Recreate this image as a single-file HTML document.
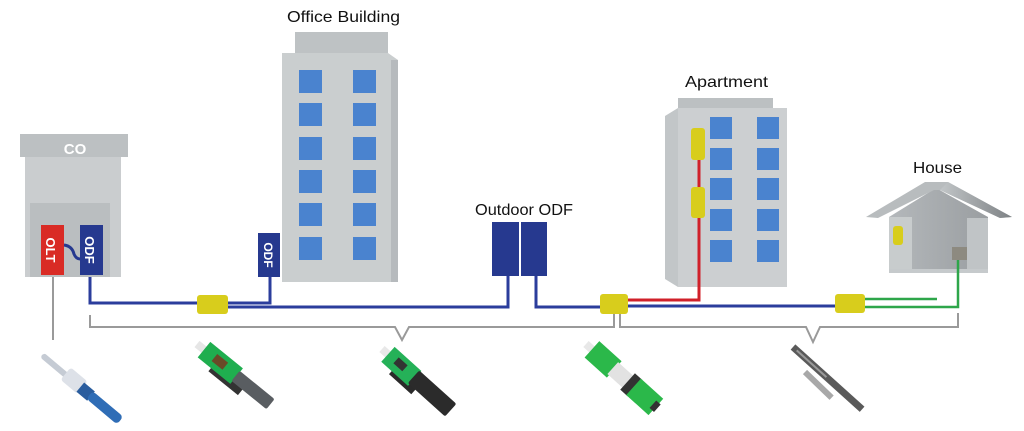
<!DOCTYPE html>
<html><head><meta charset="utf-8"><style>
html,body{margin:0;padding:0;background:#fff;width:1024px;height:431px;overflow:hidden}
svg{display:block}
text{font-family:"Liberation Sans",sans-serif}
</style></head><body>
<svg width="1024" height="431" viewBox="0 0 1024 431" xmlns="http://www.w3.org/2000/svg">
<defs>
<linearGradient id="rf" x1="0" y1="0" x2="1" y2="0">
<stop offset="0" stop-color="#c2c6c8"/><stop offset="1" stop-color="#7e8285"/>
</linearGradient>
<linearGradient id="hi" x1="0" y1="0" x2="1" y2="0">
<stop offset="0" stop-color="#b4b8bb"/><stop offset="1" stop-color="#9a9ea1"/>
</linearGradient>
</defs>
<!-- CO building -->
<rect x="20" y="134" width="108" height="23" fill="#bcc0c2"/>
<rect x="25" y="157" width="96" height="120" fill="#cacdcf"/>
<rect x="30" y="203" width="80" height="74" fill="#babec0"/>
<text x="75" y="154" font-size="15" font-weight="bold" fill="#fff" text-anchor="middle">CO</text>
<rect x="41" y="225" width="23" height="50" fill="#d92b25"/>
<rect x="80" y="225" width="23" height="50" fill="#26398f"/>
<path d="M64 245 Q72 246 74 254 Q76 259 80 259" stroke="#26398f" stroke-width="3" fill="none"/>
<text transform="translate(46 250) rotate(90)" font-size="13" font-weight="bold" fill="#fff" text-anchor="middle">OLT</text>
<text transform="translate(85 250) rotate(90)" font-size="13" font-weight="bold" fill="#fff" text-anchor="middle">ODF</text>

<!-- Office building -->
<rect x="295" y="32" width="93" height="22" fill="#bec2c4"/>
<polygon points="282,53 388,53 398,60 398,282 282,282" fill="#cacecf"/>
<rect x="391" y="60" width="7" height="222" fill="#b6babd"/>
<g fill="#4a83cf">
<rect x="299" y="70" width="23" height="23"/><rect x="353" y="70" width="23" height="23"/>
<rect x="299" y="103" width="23" height="23"/><rect x="353" y="103" width="23" height="23"/>
<rect x="299" y="137" width="23" height="23"/><rect x="353" y="137" width="23" height="23"/>
<rect x="299" y="170" width="23" height="23"/><rect x="353" y="170" width="23" height="23"/>
<rect x="299" y="203" width="23" height="23"/><rect x="353" y="203" width="23" height="23"/>
<rect x="299" y="237" width="23" height="23"/><rect x="353" y="237" width="23" height="23"/>
</g>
<text x="287" y="22" font-size="16" fill="#111" textLength="113" lengthAdjust="spacingAndGlyphs">Office Building</text>
<rect x="258" y="233" width="22" height="44" fill="#26398f"/>
<text transform="translate(264 255) rotate(90)" font-size="12" font-weight="bold" fill="#fff" text-anchor="middle">ODF</text>

<!-- Outdoor ODF -->
<text x="475" y="215" font-size="16" fill="#111" textLength="98" lengthAdjust="spacingAndGlyphs">Outdoor ODF</text>
<rect x="492" y="222" width="27" height="54" fill="#26398f"/>
<rect x="521" y="222" width="26" height="54" fill="#26398f"/>

<!-- Apartment -->
<text x="685" y="87" font-size="16" fill="#111" textLength="83" lengthAdjust="spacingAndGlyphs">Apartment</text>
<rect x="678" y="98" width="95" height="12" fill="#bcc0c2"/>
<polygon points="665,116 678,108 678,287 665,279" fill="#c2c6c8"/>
<rect x="678" y="108" width="109" height="179" fill="#cccfd1"/>
<g fill="#4a83cf">
<rect x="710" y="117" width="22" height="22"/><rect x="757" y="117" width="22" height="22"/>
<rect x="710" y="148" width="22" height="22"/><rect x="757" y="148" width="22" height="22"/>
<rect x="710" y="178" width="22" height="22"/><rect x="757" y="178" width="22" height="22"/>
<rect x="710" y="209" width="22" height="22"/><rect x="757" y="209" width="22" height="22"/>
<rect x="710" y="240" width="22" height="22"/><rect x="757" y="240" width="22" height="22"/>
</g>
<path d="M699 160 V300 H628" stroke="#d0202a" stroke-width="3" fill="none"/>
<rect x="691" y="128" width="14" height="32" rx="3" fill="#d8cd1c"/>
<rect x="691" y="187" width="14" height="31" rx="3" fill="#d8cd1c"/>

<!-- House -->
<text x="913" y="173" font-size="16" fill="#111" textLength="49" lengthAdjust="spacingAndGlyphs">House</text>
<polygon points="889,217 936,188 988,217 988,273 889,273" fill="url(#hi)"/>
<polygon points="866,217 925,182 948,182 1012,217 1000,218 940,190 934,190 878,218" fill="#b8bcbe"/>
<polygon points="940,190 948,182 1012,217 1000,218" fill="url(#rf)"/>
<rect x="889" y="217" width="23" height="56" fill="#c8cccd"/>
<rect x="967" y="218" width="21" height="55" fill="#c0c4c6"/>
<rect x="889" y="269" width="99" height="4" fill="#c6cacc"/>
<rect x="893" y="226" width="10" height="19" rx="3" fill="#d8cd1c"/>
<rect x="952" y="247" width="15" height="13" fill="#8d8a80"/>

<!-- blue lines -->
<g stroke="#2b3d9c" stroke-width="3" fill="none">
<path d="M90 277 V303 H197"/>
<path d="M228 303 H270 V277"/>
<path d="M228 307 H508 V276"/>
<path d="M536 276 V307 H600"/>
<path d="M628 306 H835"/>
</g>
<!-- green lines -->
<g stroke="#2ea64a" stroke-width="2.5" fill="none">
<path d="M865 299 H937"/>
<path d="M865 307 H958 V260"/>
</g>
<!-- yellow connectors -->
<rect x="197" y="295" width="31" height="19" rx="3" fill="#d8cd1c"/>
<rect x="600" y="294" width="28" height="20" rx="3" fill="#d8cd1c"/>
<rect x="835" y="294" width="30" height="19" rx="3" fill="#d8cd1c"/>

<!-- gray bracket lines -->
<g stroke="#9a9a9a" stroke-width="2" fill="none">
<path d="M53 277 V340"/>
<path d="M90 315 V327 H395 L402 340 L409 327 H614 V314"/>
<path d="M620 314 V327 H806 L813 342 L820 327 H958 V313"/>
</g>

<!-- icon 1 blue connector -->
<g transform="translate(42 355) rotate(40)">
<rect x="0" y="-3" width="45" height="6" rx="3" fill="#c5cbd4"/>
<rect x="30" y="-9" width="22" height="16" rx="3" fill="#dde1e8"/>
<rect x="50" y="-6" width="14" height="12" fill="#2a5d9e"/>
<rect x="62" y="-5" width="40" height="10" rx="4" fill="#2f6db6"/>
</g>
<!-- icon 2 green connector -->
<g transform="translate(197 344) rotate(39)">
<rect x="0" y="-4" width="10" height="8" fill="#e6e6e6"/>
<rect x="26" y="-2" width="38" height="16" fill="#333"/>
<rect x="9" y="-10" width="42" height="20" fill="#1fae4f"/>
<rect x="22" y="-5" width="14" height="9" fill="#6a4a28"/>
<rect x="50" y="-6" width="45" height="13" rx="2" fill="#595d61"/>
</g>
<!-- icon 3 green + black -->
<g transform="translate(382 349) rotate(42)">
<rect x="0" y="-4" width="9" height="8" fill="#e8e8e8"/>
<rect x="22" y="-2" width="30" height="16" fill="#2a2a2a"/>
<rect x="8" y="-10" width="36" height="20" fill="#25b158"/>
<rect x="18" y="-5" width="12" height="8" fill="#333"/>
<rect x="42" y="-9" width="50" height="17" rx="2" fill="#2b2b2b"/>
</g>
<!-- icon 4 green/white -->
<g transform="translate(586 344) rotate(42)">
<rect x="0" y="-4" width="9" height="8" fill="#e8e8e8"/>
<rect x="8" y="-11" width="30" height="22" fill="#2bb84a"/>
<rect x="36" y="-8" width="22" height="16" fill="#e2e2e2"/>
<rect x="56" y="-11" width="10" height="22" fill="#333"/>
<rect x="64" y="-11" width="30" height="22" fill="#2bb84a"/>
<rect x="90" y="-5" width="6" height="10" fill="#333"/>
</g>
<!-- tool -->
<g transform="translate(793 347) rotate(42)">
<rect x="0" y="-3.5" width="93" height="7" fill="#5a5a5a"/>
<rect x="5" y="-1" width="40" height="2" fill="#9a9a9a"/>
</g>
<g transform="translate(805 372) rotate(44)">
<rect x="0" y="-3" width="37" height="6" fill="#a8a8a8"/>
</g>
</svg>
</body></html>
